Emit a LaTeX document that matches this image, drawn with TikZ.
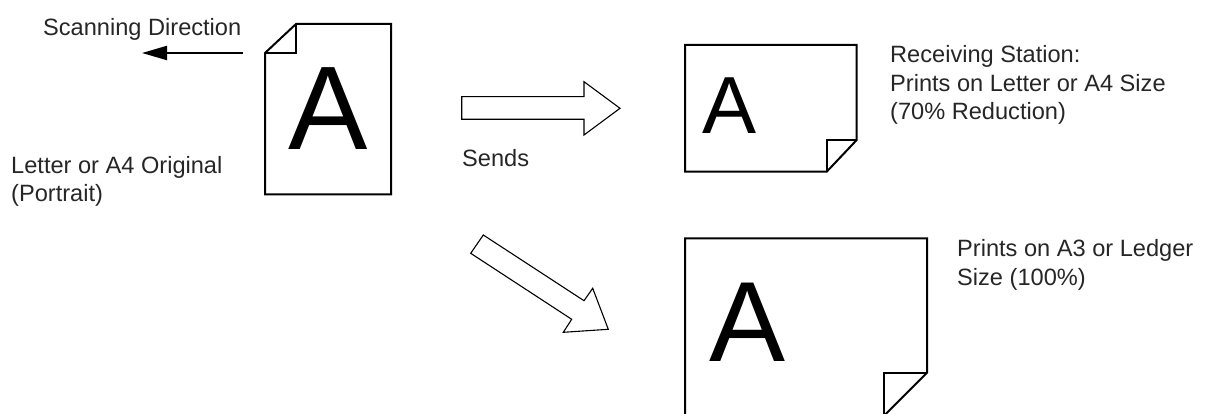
\documentclass[tikz,border=0pt]{standalone}
\usepackage{fontspec}
\setmainfont{Liberation Sans}
\usetikzlibrary{arrows.meta}
\tikzset{
  page/.style={draw=black, line width=2pt, line join=miter, fill=white},
  fatarrow/.style={draw=black, line width=1.1pt, line join=miter, fill=white},
  lbl/.style={anchor=base west, inner sep=0pt, align=left, font=\fontsize{23.6}{28.5}\selectfont, text=black!85},
  bigA/.style={anchor=base, inner sep=0pt},
}
\begin{document}
\begin{tikzpicture}[x=1pt,y=-1pt]
\useasboundingbox (0,0) rectangle (1213,414);
% labels (base anchor = baseline of last line)
\node[lbl] (scan) at (43,36) {Scanning Direction};
\node[lbl] (orig) at (11,201.8) {Letter or A4 Original\\(Portrait)};
\node[lbl] (sends) at (462,166.7) {Sends};
\node[lbl] (recv) at (890,119.7) {Receiving Station:\\Prints on Letter or A4 Size\\(70\% Reduction)};
\node[lbl] (ledger) at (957,285.2) {Prints on A3 or Ledger\\Size (100\%)};
% scanning arrow
\coordinate (scanS) at (243,53);
\coordinate (scanE) at (142,53);
\draw[line width=2pt, -{Triangle[length=25pt,width=14pt]}] (scanS) -- (scanE);
% original portrait page
\draw[page] (265,53) -- (296,24) -- (391,24) -- (391,194.5) -- (265,194.5) -- cycle;
\draw[page, fill=none] (296,24) -- (296,53) -- (265,53);
\node[bigA, font=\fontsize{119}{119}\selectfont] (A1) at (328,150) {A};
% send arrow
\draw[fatarrow] (461.7,96.7) -- (584,96.7) -- (584,81.7) -- (620,108.3) -- (584,135) -- (584,119.3) -- (461.7,119.3) -- cycle;
% diagonal arrow
\draw[fatarrow] (483.3,235) -- (584,300.7) -- (592.7,288.3) -- (608.3,329.3) -- (563.3,332.3) -- (571.7,319.3) -- (470.7,253.3) -- cycle;
% receiving landscape page
\draw[page] (685,45) -- (856.7,45) -- (856.7,140) -- (826.7,171.7) -- (685,171.7) -- cycle;
\draw[page, fill=none] (856.7,140) -- (826.7,140) -- (826.7,171.7);
\node[bigA, font=\fontsize{81}{81}\selectfont] (A2) at (730,133.3) {A};
% big page (bottom edge lies just below the picture's lower border)
\draw[page] (685,238.3) -- (927,238.3) -- (927,372.7) -- (884.3,415.4) -- (685,415.4) -- cycle;
\draw[page, fill=none] (927,372.7) -- (884.3,372.7) -- (884.3,415.4);
\node[bigA, font=\fontsize{114}{114}\selectfont] (A3) at (748,361.7) {A};
\end{tikzpicture}
\end{document}
